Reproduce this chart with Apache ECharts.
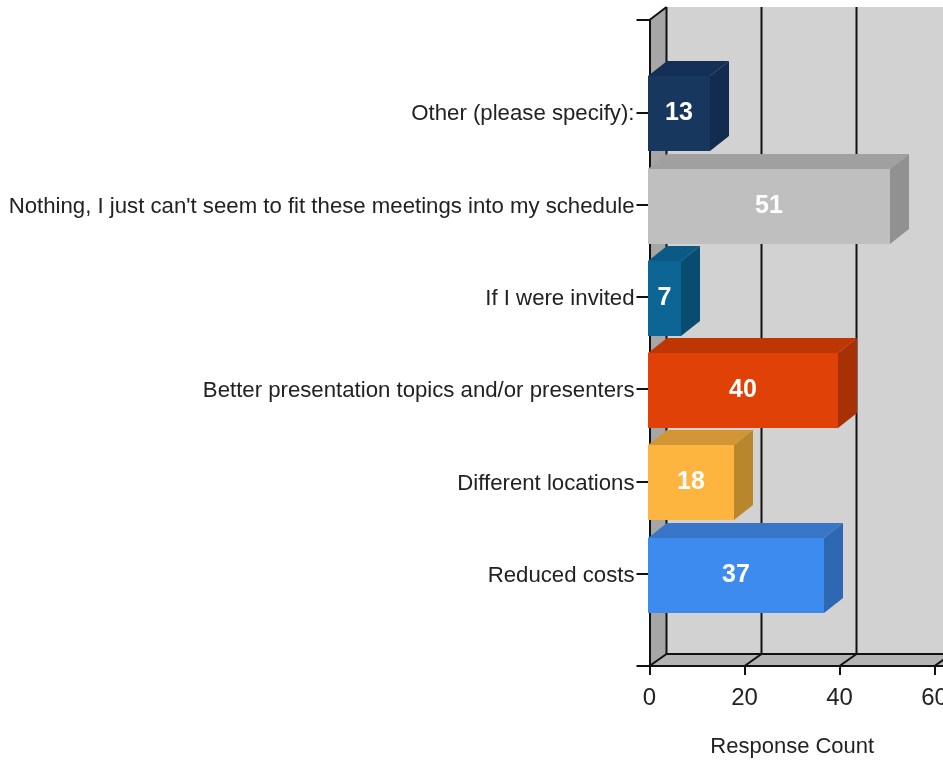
<!DOCTYPE html>
<html><head><meta charset="utf-8">
<style>html,body{margin:0;padding:0;background:#fff}#c{width:943px;height:761px}</style>
<script src="https://cdn.jsdelivr.net/npm/echarts@6/dist/echarts.min.js"></script>
</head><body><div id="c"></div>
<script>
const categories = ['', 'Reduced costs', 'Different locations', 'Better presentation topics and/or presenters', 'If I were invited', "Nothing, I just can't seem to fit these meetings into my schedule", 'Other (please specify):', ''];
const responseCounts = [null, 37, 18, 40, 7, 51, 13, null];
const xTicks = [0, 20, 40, 60];
const axisMax = 62;
const palette = [null,
  ['#3d8bef','#3a76c8','#2e68b2'],
  ['#fdb540','#d39636','#b9862c'],
  ['#e04107','#bf3605','#a83005'],
  ['#0c6595','#0a5a85','#084c6f'],
  ['#bfbfbf','#a0a0a0','#919191'],
  ['#17375e','#153056','#122b4e'],
  null];
const DX = 17, DY = -12;
const BX = 19, BY = -15, BH = 75;

function poly(points, fill){ return {type:'polygon', shape:{points}, style:{fill, stroke:null}}; }
function line(a, b, w){ return {type:'line', shape:{x1:a[0],y1:a[1],x2:b[0],y2:b[1]}, style:{stroke:'#111', lineWidth:w||2}}; }

function renderWalls(params, api){
  const tl = api.coord([0, categories.length-1]), bl = api.coord([0, 0]), br = api.coord([axisMax, 0]);
  const R = br[0] + 2;
  const children = [
    {type:'rect', shape:{x:tl[0]+DX, y:tl[1]+DY-1, width:R-tl[0]-DX, height:bl[1]-tl[1]}, style:{fill:'#d2d2d2'}},
    poly([tl,[tl[0]+DX,tl[1]+DY-1],[bl[0]+DX,bl[1]+DY],bl],'#a6a6a6'),
    poly([bl,[bl[0]+DX,bl[1]+DY],[R,bl[1]+DY],[R,bl[1]]],'#b4b4b4'),
    line([tl[0],tl[1]],[tl[0]+DX,tl[1]+DY-1]),
    line([bl[0]+DX,bl[1]+DY],[R,bl[1]+DY])
  ];
  return {type:'group', children};
}
function renderGrid(params, api){
  const v = api.value(0);
  const f = api.coord([v, 0]), t = api.coord([v, categories.length-1]);
  return {type:'group', children:[
    line(f,[f[0]+DX,f[1]+DY]),
    line([f[0]+DX,f[1]+DY],[t[0]+DX,t[1]+DY-1])
  ]};
}
function renderBar(params, api){
  const v = api.value(0), cat = api.value(1);
  const p0 = api.coord([0, cat]), p1 = api.coord([v, cat]);
  const x0 = Math.round(p0[0]-2), x1 = Math.round(p1[0]-1.5), y0 = Math.round(p0[1]+1.5-BH/2), y1 = y0+BH;
  const c = palette[cat];
  return {type:'group', children:[
    poly([[x0,y0],[x0+BX,y0+BY],[x1+BX,y0+BY],[x1,y0]],c[1]),
    poly([[x1,y0],[x1+BX,y0+BY],[x1+BX,y1+BY],[x1,y1]],c[2]),
    {type:'rect', shape:{x:x0,y:y0,width:x1-x0,height:BH}, style:{fill:c[0]}},
    {type:'text', style:{x:(x0+x1)/2, y:(y0+y1)/2-0.5, text:String(v), fill:'#fff', font:'bold 25px "Liberation Sans"', align:'center', verticalAlign:'middle'}}
  ]};
}

const chart = echarts.init(document.getElementById('c'), null, {renderer:'canvas'});
chart.setOption({
  animation:false,
  backgroundColor:'#fff',
  grid:{left:649.5, top:20, width:294.5, height:646, containLabel:false, outerBoundsMode:'none'},
  xAxis:{type:'value', min:0, max:axisMax, interval:20, z:0,
    name:'Response Count', nameLocation:'middle', nameGap:70,
    nameTextStyle:{fontFamily:'Liberation Sans', fontSize:22, color:'#222', padding:[0,9,0,0]},
    axisLine:{show:true,onZero:false,lineStyle:{color:'#111',width:2}},
    axisTick:{show:true,length:9,lineStyle:{color:'#111',width:2}},
    axisLabel:{show:true,showMaxLabel:false,margin:20,fontFamily:'Liberation Sans',fontSize:24,color:'#222'},
    splitLine:{show:false}},
  yAxis:{type:'category', data:categories, boundaryGap:false, z:0,
    axisLine:{show:true,lineStyle:{color:'#111',width:2}},
    axisTick:{show:true,length:13,alignWithLabel:true,lineStyle:{color:'#111',width:2}},
    axisLabel:{show:true,interval:0,margin:15,verticalAlign:'top',lineHeight:4,fontFamily:'Liberation Sans',fontSize:22.2,color:'#222'},
    splitLine:{show:false}},
  series:[
    {type:'custom', z:-2, silent:true, renderItem:renderWalls, data:[[0,0]], clip:false, encode:{x:0,y:1}},
    {type:'custom', z:-1, silent:true, renderItem:renderGrid, data:xTicks.map(t=>[t,0]), clip:false, encode:{x:0,y:1}},
    {type:'custom', z:3, renderItem:renderBar, clip:false, encode:{x:0,y:1},
      data:responseCounts.map((v,i)=>[v,i]).filter(d=>d[0]!==null)}
  ]
});
</script></body></html>
